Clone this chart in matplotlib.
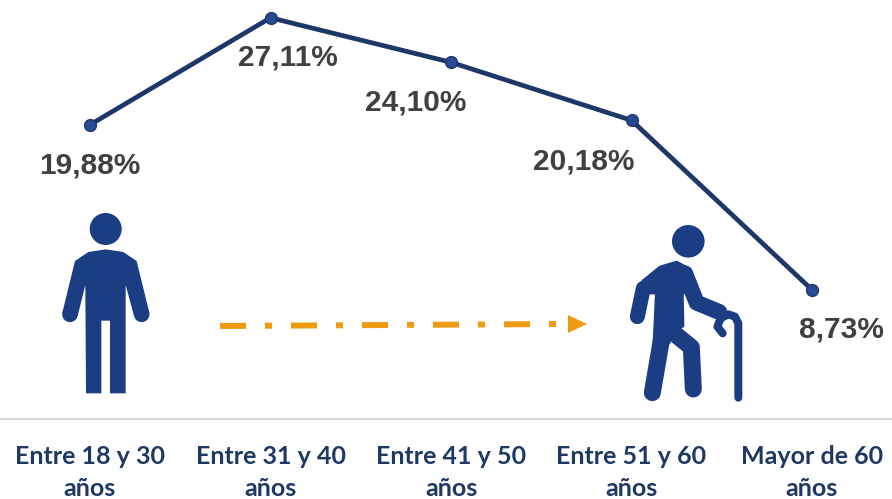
import numpy as np
import matplotlib
matplotlib.use("Agg")
import matplotlib.pyplot as plt
from matplotlib.patches import Polygon, Circle

categories = ["Entre 18 y 30\naños", "Entre 31 y 40\naños", "Entre 41 y 50\naños",
              "Entre 51 y 60\naños", "Mayor de 60\naños"]
values = [19.88, 27.11, 24.10, 20.18, 8.73]
value_labels = ["19,88%", "27,11%", "24,10%", "20,18%", "8,73%"]
# label offset from the point, pixels
label_dx = [0, 17, -35, -48, 29]
label_dy = [-41, -40, -40, -41, -40]

navy = "#1f3668"
icon_col = "#1b3d84"
orange = "#ee9b11"
W, H = 892, 499

fig = plt.figure(figsize=(W / 100, H / 100), dpi=100)
ax = fig.add_axes([0, 1 - 419 / H, 1, 419 / H])
ax.plot(range(5), values, color=navy, lw=3.4, marker="o", ms=8.5,
        mfc="#264a94", mec=navy, mew=1, clip_on=False)
ax.set_xlim(-90 / 180.5, (892 - 90) / 180.5)
ax.set_ylim(0, 419 / 14.8)
ax.set_yticks([])
ax.set_xticks(range(5))
ax.set_xticklabels(categories, fontname="Lato", fontweight="bold", fontsize=18,
                   color="#1f3864", linespacing=1.47)
ax.tick_params(axis="x", length=0, pad=19)
for s in ["top", "left", "right"]:
    ax.spines[s].set_visible(False)
ax.spines["bottom"].set_color("#d9d9d9")
ax.spines["bottom"].set_linewidth(1.5)
for i in range(5):
    ax.annotate(value_labels[i], (i, values[i]), xytext=(label_dx[i], label_dy[i]),
                textcoords="offset pixels", ha="center", va="center",
                fontname="Liberation Sans", fontweight="bold", fontsize=21.5, color="#404040")

# overlay in pixel coordinates for the pictograms and the arrow
ov = fig.add_axes([0, 0, 1, 1], facecolor="none")
ov.set_xlim(0, W)
ov.set_ylim(H, 0)
ov.axis("off")


def zoomed(pts, x0, y0):
    return [(x0 + p[0] / 3, y0 + p[1] / 3) for p in pts]


def stroke(pts, x0, y0, width, col=icon_col):
    xy = np.array(zoomed(pts, x0, y0))
    ov.plot(xy[:, 0], xy[:, 1], color=col, lw=width * 0.72,
            solid_capstyle="round", solid_joinstyle="round")


# standing person
ov.add_patch(Circle((105.7, 229), 16, color=icon_col, lw=0))
body = [(227, 178), (175, 186), (135, 213), (97, 368), (143, 378), (166, 285), (168, 610), (214, 610),
        (214, 392), (240, 392), (240, 610), (287, 610), (287, 285), (312, 378), (358, 368), (320, 213),
        (280, 186)]
ov.add_patch(Polygon(zoomed(body, 30, 190), closed=True, color=icon_col, lw=0))
ov.add_patch(Circle(zoomed([(120, 373)], 30, 190)[0], 7.8, color=icon_col, lw=0))
ov.add_patch(Circle(zoomed([(335, 373)], 30, 190)[0], 7.8, color=icon_col, lw=0))

# person with cane
ov.add_patch(Circle((688.3, 241.3), 16.3, color=icon_col, lw=0))
torso = [(230, 155), (180, 170), (128, 212), (112, 250), (168, 250), (161, 400), (208, 400), (212, 375),
         (250, 348), (248, 250), (295, 240), (272, 178)]
ov.add_patch(Polygon(zoomed(torso, 600, 210), closed=True, fc=icon_col, ec=icon_col, lw=1.5,
                     joinstyle="round"))
stroke([(130, 235), (112, 320)], 600, 210, 15)
stroke([(255, 190), (290, 278), (358, 306)], 600, 210, 16)
stroke([(185, 385), (157, 548)], 600, 210, 17)
stroke([(225, 372), (274, 412), (280, 537)], 600, 210, 17)
stroke([(415, 563), (415, 340), (405, 320), (385, 313), (362, 325), (352, 350), (368, 370)],
       600, 210, 8)

# dash-dot arrow
ov.plot([220, 563], [326, 324], color=orange, lw=6 * 0.72, solid_capstyle="butt",
        dash_capstyle="butt", linestyle=(0, (26 / 6, 19 / 6, 7 / 6, 19 / 6)))
ov.add_patch(Polygon([(568, 315), (587, 324), (568, 333)], closed=True, color=orange, lw=0))

fig.savefig("out.png", dpi=100)
